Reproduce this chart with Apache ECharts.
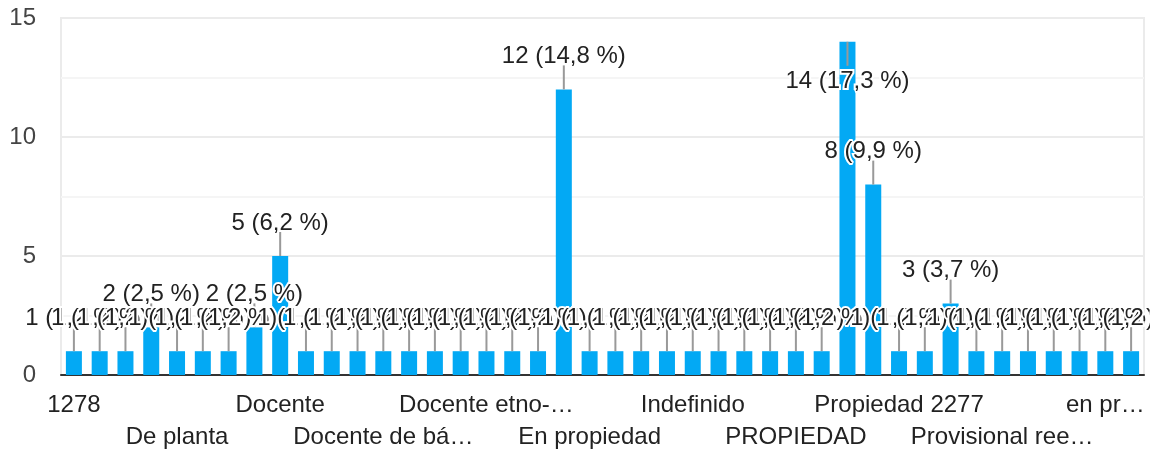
<!DOCTYPE html>
<html><head><meta charset="utf-8">
<script src="https://cdn.jsdelivr.net/npm/echarts@6/dist/echarts.min.js"></script>
<style>html,body{margin:0;padding:0;background:#fff}#c{width:1150px;height:453px}</style>
</head><body><div id="c"></div>
<script>
const categories = [
  "1278", "2277", "Carrera", "De Planta", "De planta", "Decreto 1278", "Definitivo",
  "Directivo docente", "Docente", "Docente 1278", "Docente de apoyo", "Docente de aula",
  "Docente de básica primaria", "Docente de primaria", "Docente de secundaria",
  "Docente en propiedad", "Docente etno-educador", "Docente orientador", "Docente provisional",
  "En Propiedad", "En propiedad", "En propiedad 1278", "En provisionalidad", "Encargo",
  "Indefinido", "Nombramiento", "Nombramiento en propiedad", "Nombramiento provisional",
  "PROPIEDAD", "PROVISIONAL", "Propiedad", "Propiedad 1278", "Propiedad 2277", "Propietario",
  "Provisional", "Provisional en vacante definitiva", "Provisional reemplazo",
  "Provisional vacante definitiva", "Tiempo completo", "Vinculado", "en propiedad", "propiedad"
];
const counts = [
  1, 1, 1, 2, 1, 1, 1, 2, 5, 1, 1, 1, 1, 1, 1, 1, 1, 1, 1, 12, 1,
  1, 1, 1, 1, 1, 1, 1, 1, 1, 14, 8, 1, 1, 3, 1, 1, 1, 1, 1, 1, 1
];
const tickLabels = [
  "1278", "De planta", "Docente", "Docente de bá…", "Docente etno-…", "En propiedad",
  "Indefinido", "PROPIEDAD", "Propiedad 2277", "Provisional ree…", "en pr…"
];
const yTicks = { min: 0, max: 15, interval: 5 };

const FONT = '"Liberation Sans", Arial, sans-serif';
const total = counts.reduce((a, b) => a + b, 0);
function pctLabel(v) {
  return v + ' (' + (v / total * 100).toFixed(1).replace('.', ',') + ' %)';
}
function tickText(v, idx) {
  const t = tickLabels[Math.round(idx / 4)];
  return t !== undefined ? t : v;
}
const labelBase = { fontSize: 24, lineHeight: 32, color: '#222', margin: 14, fontFamily: FONT, formatter: tickText };

const chart = echarts.init(document.getElementById('c'), null, { renderer: 'canvas' });
chart.setOption({
  animation: false,
  textStyle: { fontFamily: FONT },
  grid: { left: 61, right: 6, top: 18, bottom: 78, show: true, borderColor: '#ebebeb', borderWidth: 2, outerBoundsMode: 'none', containLabel: false },
  xAxis: [
    {
      type: 'category', data: categories, position: 'bottom',
      axisLine: { lineStyle: { color: '#333', width: 2 } },
      axisTick: { show: false },
      axisLabel: Object.assign({ interval: function (idx) { return idx % 8 === 0; } }, labelBase)
    },
    {
      type: 'category', data: categories, position: 'bottom', offset: 32,
      axisLine: { show: false }, axisTick: { show: false }, splitLine: { show: false },
      axisLabel: Object.assign({ interval: function (idx) { return idx % 8 === 4; } }, labelBase)
    }
  ],
  yAxis: {
    type: 'value', min: yTicks.min, max: yTicks.max, interval: yTicks.interval,
    axisLine: { show: false }, axisTick: { show: false },
    axisLabel: { fontSize: 24, color: '#444', margin: 25, fontFamily: FONT },
    splitLine: { lineStyle: { color: '#ebebeb', width: 2 } },
    minorTick: { show: false, splitNumber: 2 },
    minorSplitLine: { show: true, lineStyle: { color: '#f5f5f5', width: 2 } }
  },
  series: [
    {
      type: 'bar', data: counts, barWidth: 16, silent: true, xAxisIndex: 0,
      itemStyle: { color: '#03a9f4' }
    },
    {
      type: 'custom', silent: true, z: 5, xAxisIndex: 0,
      data: counts.map((v, i) => [i, v]),
      renderItem: function (params, api) {
        const i = api.value(0), v = api.value(1);
        const p = api.coord([i, v]);
        const gridTop = params.coordSys.y;
        const stem = 24;
        const up = p[1] - stem - 26 >= gridTop;
        const y2 = up ? p[1] - stem : p[1] + stem;
        const ty = up ? y2 - 9 : y2 + 16;
        return {
          type: 'group',
          children: [
            { type: 'line', z2: 1, shape: { x1: p[0], y1: p[1], x2: p[0], y2: y2 },
              style: { stroke: '#999', lineWidth: 2 } },
            { type: 'text', z2: 10, x: p[0], y: ty,
              style: { text: pctLabel(v), fill: '#222', stroke: '#fff', lineWidth: 4,
                       font: '24px ' + FONT, align: 'center', verticalAlign: 'middle' } }
          ]
        };
      }
    }
  ]
});
</script>
</body></html>
